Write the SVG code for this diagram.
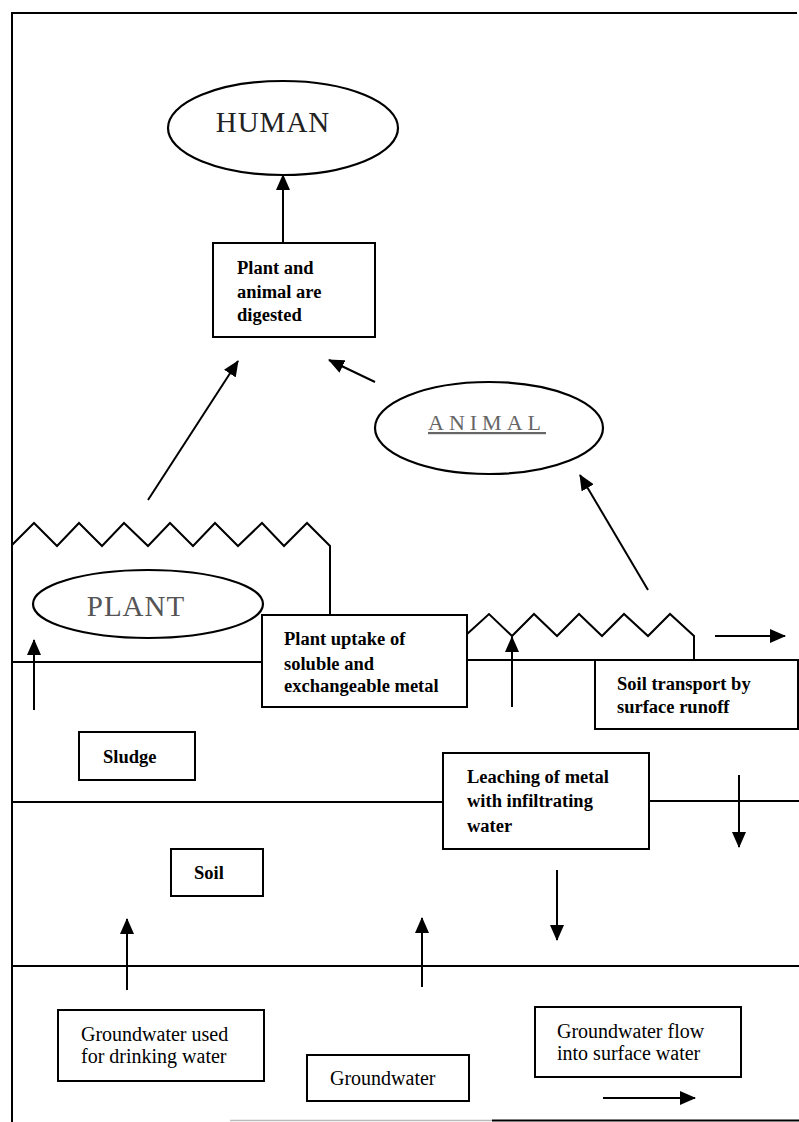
<svg xmlns="http://www.w3.org/2000/svg" width="799" height="1122" viewBox="0 0 799 1122">
<style>
.ln{stroke:#000;stroke-width:2;fill:none}
.box{stroke:#000;stroke-width:2;fill:#fff}
.ell{stroke:#000;stroke-width:2.2;fill:#fff}
.b{font-family:"Liberation Serif",serif;font-weight:bold;font-size:18.5px;fill:#000}
.r{font-family:"Liberation Serif",serif;font-size:20px;fill:#000}
.big{font-family:"Liberation Serif",serif;font-size:29px;text-anchor:middle}
.ar{stroke:#000;stroke-width:2;fill:none;marker-end:url(#ah)}
</style>
<defs>
<marker id="ah" markerUnits="userSpaceOnUse" markerWidth="16" markerHeight="14" refX="15" refY="7" orient="auto">
<path d="M0,0 L16,7 L0,14 Z" fill="#000"/>
</marker>
</defs>
<rect width="799" height="1122" fill="#fff"/>
<g id="frame">
<path class="ln" d="M12,1122 L12,13 L797,13"/>
<line x1="230" y1="1120.5" x2="492" y2="1120.5" stroke="#bbb" stroke-width="1.5"/>
<line x1="492" y1="1120.5" x2="799" y2="1120.5" stroke="#000" stroke-width="2"/>
</g>
<g id="layers">
<line class="ln" x1="12" y1="662" x2="262" y2="662"/>
<line class="ln" x1="467" y1="660" x2="595" y2="660"/>
<line class="ln" x1="12" y1="802" x2="443" y2="802"/>
<line class="ln" x1="649" y1="801" x2="799" y2="801"/>
<line class="ln" x1="12" y1="966" x2="799" y2="966"/>
<polyline class="ln" points="12,545 34,523 57,546 79,523 102,546 124,523 148,546 170,523 193,546 215,523 238,546 262,523 284,546 307,523 330,546 330,615"/>
<polyline class="ln" points="466,635 489,614 512,636 534,614 557,636 579,614 602,636 624,614 648,636 670,614 694,636 694,660"/>
</g>
<g id="human">
<ellipse class="ell" cx="283" cy="128" rx="115" ry="47"/>
<text class="big" x="273" y="132" fill="#222" letter-spacing="1">HUMAN</text>
</g>
<g id="digested">
<rect class="box" x="213" y="243" width="162" height="94"/>
<text class="b" x="237" y="274">Plant and</text>
<text class="b" x="237" y="298">animal are</text>
<text class="b" x="237" y="321">digested</text>
</g>
<g id="animal">
<ellipse class="ell" cx="489" cy="428" rx="114" ry="46"/>
<text x="487" y="430" font-family="'Liberation Serif',serif" font-size="22" fill="#666" text-anchor="middle" letter-spacing="5" text-decoration="underline">ANIMAL</text>
</g>
<g id="plant">
<ellipse class="ell" cx="148" cy="604" rx="115" ry="34"/>
<text class="big" x="136" y="616" fill="#555" font-size="28" letter-spacing="1">PLANT</text>
</g>
<g id="uptake">
<rect class="box" x="262" y="615" width="205" height="92"/>
<text class="b" x="284" y="645">Plant uptake of</text>
<text class="b" x="284" y="670">soluble and</text>
<text class="b" x="284" y="692">exchangeable metal</text>
</g>
<g id="runoff">
<rect class="box" x="595" y="660" width="203" height="69"/>
<text class="b" x="617" y="690">Soil transport by</text>
<text class="b" x="617" y="713">surface runoff</text>
</g>
<g id="sludge">
<rect class="box" x="79" y="732" width="116" height="48"/>
<text class="b" x="103" y="763">Sludge</text>
</g>
<g id="leaching">
<rect class="box" x="443" y="753" width="206" height="96"/>
<text class="b" x="467" y="783">Leaching of metal</text>
<text class="b" x="467" y="807">with infiltrating</text>
<text class="b" x="467" y="832">water</text>
</g>
<g id="soil">
<rect class="box" x="171" y="849" width="92" height="47"/>
<text class="b" x="194" y="879">Soil</text>
</g>
<g id="drinking">
<rect class="box" x="58" y="1010" width="206" height="71"/>
<text class="r" x="81" y="1041">Groundwater used</text>
<text class="r" x="81" y="1063">for drinking water</text>
</g>
<g id="groundwater">
<rect class="box" x="307" y="1055" width="162" height="46"/>
<text class="r" x="330" y="1085">Groundwater</text>
</g>
<g id="flow">
<rect class="box" x="535" y="1007" width="206" height="70"/>
<text class="r" x="557" y="1038">Groundwater flow</text>
<text class="r" x="557" y="1060">into surface water</text>
</g>
<g id="connectors">
<line class="ar" x1="283" y1="243" x2="283" y2="175"/>
<line class="ar" x1="148" y1="500" x2="238" y2="361"/>
<line class="ar" x1="375" y1="382" x2="329" y2="360"/>
<line class="ar" x1="648" y1="590" x2="580" y2="475"/>
<line class="ar" x1="34" y1="710" x2="34" y2="640"/>
<line class="ar" x1="512" y1="707" x2="512" y2="637"/>
<line class="ar" x1="715" y1="636" x2="785" y2="636"/>
<line class="ar" x1="739" y1="775" x2="739" y2="847"/>
<line class="ar" x1="127" y1="990" x2="127" y2="919"/>
<line class="ar" x1="422" y1="987" x2="422" y2="918"/>
<line class="ar" x1="557" y1="870" x2="557" y2="940"/>
<line class="ar" x1="603" y1="1098" x2="695" y2="1098"/>
</g>
</svg>
